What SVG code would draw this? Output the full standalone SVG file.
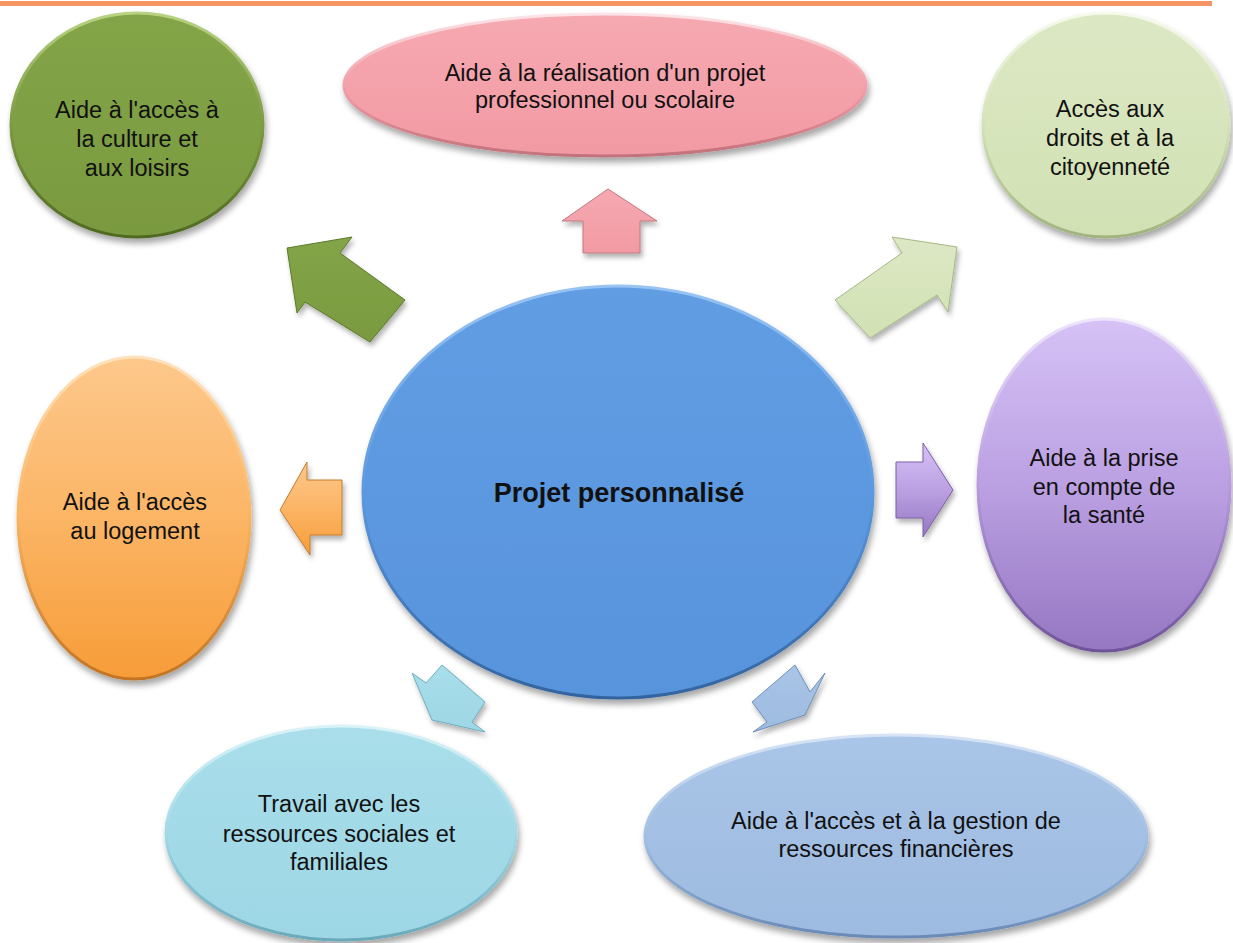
<svg xmlns="http://www.w3.org/2000/svg" width="1233" height="943" viewBox="0 0 1233 943">
<defs>
<style>
.t{font-family:"Liberation Sans",Arial,sans-serif;font-size:23.5px;fill:#111;text-anchor:middle}
.tb{font-family:"Liberation Sans",Arial,sans-serif;font-size:27px;font-weight:bold;fill:#111;text-anchor:middle}
.n{stroke-width:3;filter:url(#sh)}
.a{stroke-width:1;filter:url(#sha)}
</style>
<filter id="sh" x="-10%" y="-10%" width="125%" height="130%"><feDropShadow dx="2" dy="5" stdDeviation="3" flood-color="#000" flood-opacity="0.35"/></filter>
<filter id="sha" x="-20%" y="-20%" width="150%" height="150%"><feDropShadow dx="2" dy="4" stdDeviation="2.5" flood-color="#000" flood-opacity="0.3"/></filter>
<linearGradient id="fGreen" x1="0" y1="0" x2="0" y2="1"><stop offset="0" stop-color="#84A448"/><stop offset="1" stop-color="#7A9A40"/></linearGradient>
<linearGradient id="rGreen" x1="0" y1="0" x2="0" y2="1"><stop offset="0" stop-color="#B8D282"/><stop offset="0.5" stop-color="#7C9B42"/><stop offset="1" stop-color="#4F6822"/></linearGradient>
<linearGradient id="fPink" x1="0" y1="0" x2="0" y2="1"><stop offset="0" stop-color="#F6A9B1"/><stop offset="1" stop-color="#F29AA4"/></linearGradient>
<linearGradient id="rPink" x1="0" y1="0" x2="0" y2="1"><stop offset="0" stop-color="#FDE4E8"/><stop offset="0.5" stop-color="#F2A0A9"/><stop offset="1" stop-color="#C2727B"/></linearGradient>
<linearGradient id="fLg" x1="0" y1="0" x2="0" y2="1"><stop offset="0" stop-color="#DCE8C4"/><stop offset="1" stop-color="#D2E1B4"/></linearGradient>
<linearGradient id="rLg" x1="0" y1="0" x2="0" y2="1"><stop offset="0" stop-color="#F6FAEC"/><stop offset="0.5" stop-color="#D4E2B8"/><stop offset="1" stop-color="#A1B27F"/></linearGradient>
<linearGradient id="fPur" x1="0" y1="0" x2="0" y2="1"><stop offset="0" stop-color="#D6C2F6"/><stop offset="0.5" stop-color="#BBA0E2"/><stop offset="1" stop-color="#9577C2"/></linearGradient>
<linearGradient id="rPur" x1="0" y1="0" x2="0" y2="1"><stop offset="0" stop-color="#EEE4FC"/><stop offset="0.5" stop-color="#B79CDF"/><stop offset="1" stop-color="#6E5399"/></linearGradient>
<linearGradient id="fOr" x1="0" y1="0" x2="0" y2="1"><stop offset="0" stop-color="#FDC88C"/><stop offset="0.5" stop-color="#FBB565"/><stop offset="1" stop-color="#F79C38"/></linearGradient>
<linearGradient id="rOr" x1="0" y1="0" x2="0" y2="1"><stop offset="0" stop-color="#FFE2BC"/><stop offset="0.5" stop-color="#FAB460"/><stop offset="1" stop-color="#C07424"/></linearGradient>
<linearGradient id="fBl" x1="0" y1="0" x2="0" y2="1"><stop offset="0" stop-color="#609DE3"/><stop offset="1" stop-color="#5894DC"/></linearGradient>
<linearGradient id="rBl" x1="0" y1="0" x2="0" y2="1"><stop offset="0" stop-color="#98C4F4"/><stop offset="0.5" stop-color="#5D98DE"/><stop offset="1" stop-color="#33649F"/></linearGradient>
<linearGradient id="fCy" x1="0" y1="0" x2="0" y2="1"><stop offset="0" stop-color="#A9DEEA"/><stop offset="1" stop-color="#9DD6E5"/></linearGradient>
<linearGradient id="rCy" x1="0" y1="0" x2="0" y2="1"><stop offset="0" stop-color="#DAF3F8"/><stop offset="0.5" stop-color="#A1D9E7"/><stop offset="1" stop-color="#6AA9B9"/></linearGradient>
<linearGradient id="fBg" x1="0" y1="0" x2="0" y2="1"><stop offset="0" stop-color="#A9C5E7"/><stop offset="1" stop-color="#9DBAE0"/></linearGradient>
<linearGradient id="rBg" x1="0" y1="0" x2="0" y2="1"><stop offset="0" stop-color="#D6E4F6"/><stop offset="0.5" stop-color="#A2BFE3"/><stop offset="1" stop-color="#6A8AB5"/></linearGradient>
</defs>
<rect x="0" y="1" width="1212" height="5" fill="#F79463"/>
<g id="connectors">
<polygon class="a" points="287,248 352,237 340,253 405,300 370,342 305,302 297,313" fill="url(#fGreen)" stroke="#5C7A2A"/>
<polygon class="a" points="608,189 657,221 640,221 640,253 583,253 583,221 562,221" fill="url(#fPink)" stroke="#C27880"/>
<polygon class="a" points="957,247 948,312 937,295 870,338 835,300 902,253 892,237" fill="url(#fLg)" stroke="#A6B784"/>
<polygon class="a" points="953,490 923,537 923,518 896,518 896,462 923,462 923,443" fill="url(#fPur)" stroke="#7A60A6"/>
<polygon class="a" points="280,510 307,462 307,480 342,480 342,535 310,535 310,555" fill="url(#fOr)" stroke="#C47A2A"/>
<polygon class="a" points="432,720 412,673 426,683 442,665 485,702 472,722 485,732" fill="url(#fCy)" stroke="#6FAFBE"/>
<polygon class="a" points="795,665 810,692 825,673 805,715 753,732 767,722 752,702" fill="url(#fBg)" stroke="#6E8FBA"/>
</g>
<g id="node-culture">
<ellipse class="n" cx="137" cy="125" rx="126" ry="112" fill="url(#fGreen)" stroke="url(#rGreen)"/>
<text class="t" x="137" y="118">Aide à l'accès à</text>
<text class="t" x="137" y="147">la culture et</text>
<text class="t" x="137" y="176">aux loisirs</text>
</g>
<g id="node-projet-pro">
<ellipse class="n" cx="605" cy="85" rx="261" ry="71" fill="url(#fPink)" stroke="url(#rPink)"/>
<text class="t" x="605" y="81">Aide à la réalisation d'un projet</text>
<text class="t" x="605" y="108">professionnel ou scolaire</text>
</g>
<g id="node-droits">
<ellipse class="n" cx="1106" cy="125" rx="123" ry="112" fill="url(#fLg)" stroke="url(#rLg)"/>
<text class="t" x="1110" y="117">Accès aux</text>
<text class="t" x="1110" y="146">droits et à la</text>
<text class="t" x="1110" y="175">citoyenneté</text>
</g>
<g id="node-sante">
<ellipse class="n" cx="1104" cy="485" rx="126" ry="166" fill="url(#fPur)" stroke="url(#rPur)"/>
<text class="t" x="1104" y="466">Aide à la prise</text>
<text class="t" x="1104" y="495">en compte de</text>
<text class="t" x="1104" y="523">la santé</text>
</g>
<g id="node-logement">
<ellipse class="n" cx="134" cy="518" rx="116" ry="161" fill="url(#fOr)" stroke="url(#rOr)"/>
<text class="t" x="135" y="510">Aide à l'accès</text>
<text class="t" x="135" y="539">au logement</text>
</g>
<g id="node-centre">
<ellipse class="n" cx="618" cy="492" rx="255" ry="206" fill="url(#fBl)" stroke="url(#rBl)"/>
<text class="tb" x="619" y="502">Projet personnalisé</text>
</g>
<g id="node-ressources-sociales">
<ellipse class="n" cx="341" cy="833" rx="175" ry="107" fill="url(#fCy)" stroke="url(#rCy)"/>
<text class="t" x="339" y="812">Travail avec les</text>
<text class="t" x="339" y="842">ressources sociales et</text>
<text class="t" x="339" y="870">familiales</text>
</g>
<g id="node-ressources-financieres">
<ellipse class="n" cx="896" cy="836" rx="251" ry="101" fill="url(#fBg)" stroke="url(#rBg)"/>
<text class="t" x="896" y="829">Aide à l'accès et à la gestion de</text>
<text class="t" x="896" y="857">ressources financières</text>
</g>
</svg>
